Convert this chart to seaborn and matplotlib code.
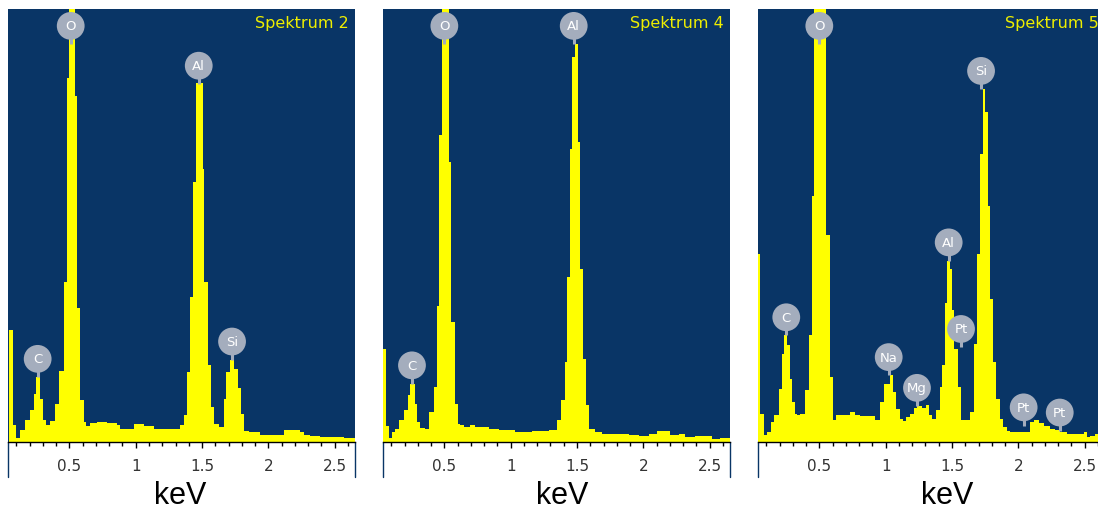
import numpy as np
import pandas as pd
import matplotlib
matplotlib.use("Agg")
import matplotlib.pyplot as plt
from matplotlib.lines import Line2D
import seaborn as sns

# channel edges (keV) and counts (1000 = top of frame)
edges_2 = [0.048, 0.073, 0.098, 0.131, 0.168, 0.206, 0.231, 0.249, 0.281, 0.302,
           0.324, 0.357, 0.394, 0.425, 0.457, 0.482, 0.495, 0.545, 0.558, 0.583,
           0.608, 0.628, 0.658, 0.709, 0.784, 0.859, 0.884, 0.985, 1.060, 1.136,
           1.337, 1.362, 1.387, 1.412, 1.430, 1.455, 1.505, 1.518, 1.543, 1.568,
           1.588, 1.626, 1.663, 1.683, 1.714, 1.744, 1.771, 1.794, 1.819, 1.852,
           1.889, 1.940, 1.990, 2.116, 2.241, 2.266, 2.317, 2.392, 2.492, 2.568,
           2.656]
counts_2 = [258, 40, 10, 27, 50, 73, 110, 150, 100, 50,
            40, 48, 88, 165, 370, 840, 1400, 800, 310, 96,
            46, 38, 44, 46, 45, 40, 31, 42, 38, 31,
            40, 62, 162, 335, 600, 830, 630, 370, 177, 80,
            42, 35, 100, 162, 190, 168, 125, 65, 25, 23,
            22, 16, 17, 28, 22, 17, 14, 12, 12, 9]

edges_4 = [0.035, 0.060, 0.085, 0.106, 0.131, 0.161, 0.193, 0.224, 0.244, 0.276,
           0.294, 0.319, 0.357, 0.387, 0.420, 0.445, 0.457, 0.482, 0.538, 0.553,
           0.578, 0.603, 0.621, 0.646, 0.696, 0.734, 0.834, 0.910, 1.035, 1.161,
           1.286, 1.349, 1.382, 1.407, 1.425, 1.450, 1.462, 1.482, 1.508, 1.520,
           1.543, 1.568, 1.588, 1.638, 1.688, 1.889, 1.965, 2.040, 2.103, 2.204,
           2.266, 2.317, 2.392, 2.518, 2.580, 2.656]
counts_4 = [215, 38, 9, 23, 31, 50, 73, 108, 135, 88,
            46, 32, 29, 69, 127, 315, 708, 1400, 646, 277,
            88, 42, 40, 35, 40, 35, 31, 27, 23, 25,
            27, 50, 96, 185, 380, 677, 888, 919, 692, 400,
            192, 85, 31, 23, 19, 15, 14, 19, 25, 17,
            19, 12, 14, 8, 9]

edges_5 = [0.035, 0.055, 0.085, 0.106, 0.136, 0.161, 0.193, 0.219, 0.236, 0.256,
           0.276, 0.294, 0.314, 0.332, 0.357, 0.394, 0.420, 0.445, 0.462, 0.553,
           0.578, 0.603, 0.628, 0.734, 0.771, 0.809, 0.922, 0.960, 0.985, 1.030,
           1.055, 1.080, 1.106, 1.131, 1.156, 1.181, 1.211, 1.236, 1.274, 1.307,
           1.324, 1.349, 1.382, 1.407, 1.425, 1.450, 1.462, 1.482, 1.503, 1.518,
           1.543, 1.568, 1.638, 1.663, 1.688, 1.709, 1.734, 1.746, 1.769, 1.784,
           1.809, 1.834, 1.859, 1.884, 1.915, 1.940, 2.090, 2.116, 2.153, 2.191,
           2.241, 2.279, 2.317, 2.367, 2.492, 2.518, 2.543, 2.580, 2.656]
counts_5 = [435, 65, 15, 23, 46, 62, 123, 204, 246, 223,
            146, 92, 65, 62, 65, 119, 246, 569, 1400, 477,
            150, 50, 62, 69, 62, 60, 50, 92, 135, 154,
            115, 77, 54, 48, 58, 65, 78, 83, 78, 85,
            62, 52, 73, 127, 177, 320, 419, 400, 304, 215,
            127, 50, 69, 227, 435, 665, 815, 762, 546, 330,
            185, 100, 54, 35, 25, 23, 46, 50, 45, 38,
            31, 27, 22, 19, 22, 12, 14, 19]

# element markers: name, energy (keV), height where the pin touches the peak
elements_2 = ["C", "O", "Al", "Si"]
elem_kev_2 = [0.261, 0.510, 1.475, 1.726]
elem_top_2 = [150, 919, 827, 190]

elements_4 = ["C", "O", "Al"]
elem_kev_4 = [0.256, 0.500, 1.475]
elem_top_4 = [135, 919, 919]

elements_5 = ["C", "O", "Na", "Mg", "Al", "Pt", "Si", "Pt", "Pt"]
elem_kev_5 = [0.251, 0.500, 1.023, 1.236, 1.475, 1.568, 1.719, 2.040, 2.312]
elem_top_5 = [246, 919, 154, 83, 419, 219, 815, 38, 26]

titles = ["Spektrum 2", "Spektrum 4", "Spektrum 5"]
tick_kev = [0.5, 1, 1.5, 2, 2.5]
tick_text = ["0.5", "1", "1.5", "2", "2.5"]

NAVY = "#093566"
YELLOW = "#ffff00"
PIN = "#a4adbd"

sns.set_style("ticks")
plt.rcParams["font.family"] = ["DejaVu Sans"]


def draw_spectrum(ax, edges, counts, title, elements, elem_kev, elem_top, label_x):
    e = np.array(edges)
    df = pd.DataFrame({"kev": (e[:-1] + e[1:]) / 2, "counts": counts})
    sns.histplot(data=df, x="kev", weights="counts", bins=list(edges),
                 element="step", fill=True, color=YELLOW, alpha=1,
                 linewidth=0, ax=ax)
    ax.set_facecolor(NAVY)
    ax.set_xlim(0.04, 2.655)
    ax.set_ylim(0, 1000)
    ax.set_yticks([])
    ax.set_ylabel("")

    for side in ["top", "right", "left"]:
        ax.spines[side].set_visible(False)
    ax.spines["bottom"].set_color("black")
    ax.spines["bottom"].set_linewidth(1.0)

    ax.set_xticks(tick_kev)
    ax.set_xticklabels(tick_text)
    ax.set_xticks(np.arange(0.1, 2.65, 0.1), minor=True)
    ax.tick_params(axis="x", which="major", direction="out", length=4.5, width=1,
                   color="black", labelsize=11, labelcolor="#333333", pad=7,
                   bottom=True)
    ax.tick_params(axis="x", which="minor", direction="out", length=3, width=1,
                   color="black", bottom=True)

    ax.set_xlabel("keV", fontsize=22, family="Liberation Sans", color="black")
    ax.xaxis.set_label_coords(label_x, -0.088)

    ax.text(0.712, 0.968, title, transform=ax.transAxes, ha="left", va="center",
            fontsize=11.5, color="#eeee00")

    # grey element pins
    tops = np.array(elem_top)
    ax.vlines(elem_kev, tops, tops + 42, color=PIN, lw=2.2, zorder=3)
    ax.scatter(elem_kev, tops + 42, s=400, color=PIN, edgecolor="none",
               zorder=4, clip_on=False)
    for name, k, t in zip(elements, elem_kev, tops):
        ax.text(k, t + 42, name, ha="center", va="center", fontsize=9.5,
                color="white", zorder=5)

    # thin navy frame edges running down beside the tick labels
    for xs in [0, 1]:
        ax.add_artist(Line2D([xs, xs], [0, -0.08], transform=ax.transAxes,
                             color=NAVY, lw=1, clip_on=False))


fig = plt.figure(figsize=(10.98, 5.10), dpi=100)
panel_left = [0.0076, 0.3491, 0.6906]
spectra = [
    (edges_2, counts_2, elements_2, elem_kev_2, elem_top_2, 0.495),
    (edges_4, counts_4, elements_4, elem_kev_4, elem_top_4, 0.515),
    (edges_5, counts_5, elements_5, elem_kev_5, elem_top_5, 0.544),
]
for left, title, (edges, counts, elements, kev, top, lx) in zip(panel_left, titles, spectra):
    ax = fig.add_axes([left, 0.1314, 0.316, 0.849])
    draw_spectrum(ax, edges, counts, title, elements, kev, top, lx)

fig.savefig("out.png", dpi=100)
plt.close(fig)
